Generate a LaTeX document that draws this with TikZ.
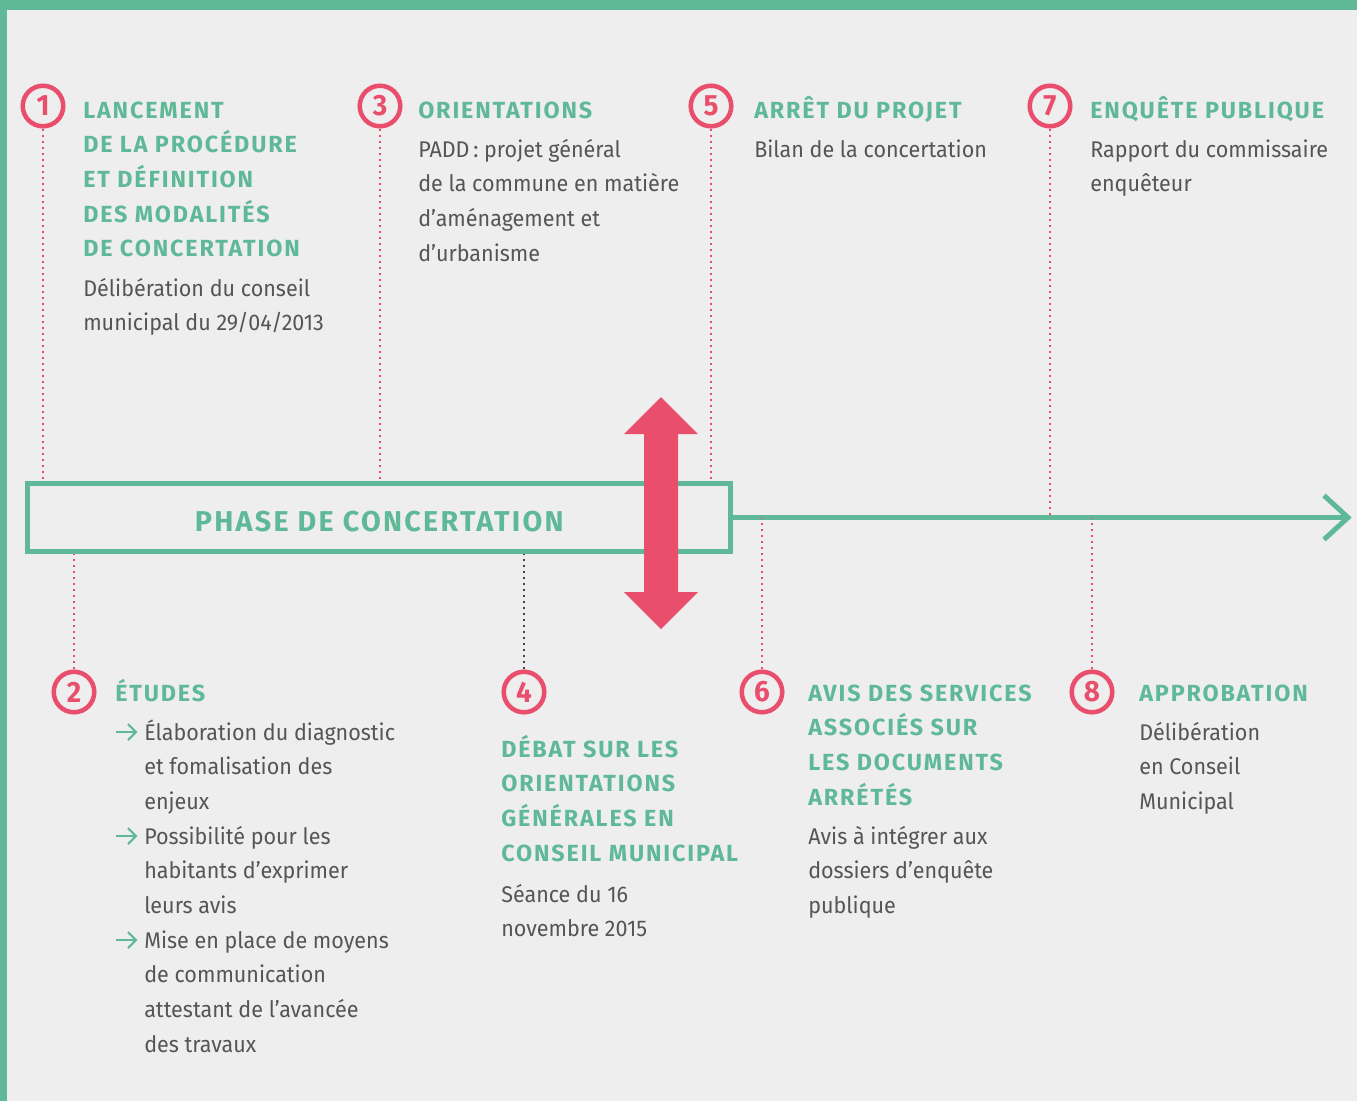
\documentclass[tikz,border=0pt]{standalone}
\usepackage{fontspec}
\setmainfont{Fira Sans}[FakeStretch=0.95]
\newfontfamily\hfont{Fira Sans}[LetterSpace=8,FakeStretch=1.0]
\definecolor{gr}{HTML}{5FB998}
\definecolor{pk}{HTML}{E94F6D}
\definecolor{bg}{HTML}{EEEEEE}
\definecolor{tx}{HTML}{555555}
\definecolor{dk}{HTML}{444444}
\newcommand\tl[1]{\begin{tabular}[t]{@{}l@{}}#1\end{tabular}}
\tikzset{
  circ/.style={circle,draw=pk,line width=3.4pt,minimum size=30.4pt,inner sep=0pt,text=pk,font=\bfseries\fontsize{22}{24}\selectfont},
  head/.style={anchor=base west,inner sep=0pt,text=gr,font=\hfont\bfseries\fontsize{17.5}{26}\selectfont},
  body/.style={anchor=base west,inner sep=0pt,text=tx,font=\fontsize{17}{26}\selectfont},
  pdot/.style={draw=pk,line width=1.5pt,dash pattern=on 1.5pt off 3pt},
  kdot/.style={draw=dk,line width=1.5pt,dash pattern=on 1.5pt off 3pt},
  gline/.style={draw=gr,line width=3.75pt},
  bul/.style={draw=gr,line width=1.6pt},
}
\begin{document}
\begin{tikzpicture}[x=0.75pt,y=-0.75pt]
\useasboundingbox (0,0) rectangle (1357,1101);
\fill[gr] (0,0) rectangle (1357,1101);
\fill[bg] (7,10) rectangle (1357,1101);
% box and timeline
\node[gline,rectangle,inner sep=0pt,minimum width=526.9pt,minimum height=50.6pt,text=gr,
  text height=21pt,text depth=0pt,
  font=\hfont\bfseries\fontsize{21.5}{26}\selectfont] (box) at (379.25,517.5) {PHASE DE CONCERTATION};
\coordinate (tip) at (1348,517.5);
\draw[gline] (box.east) -- (tip);
\draw[gline,miter limit=10] (tip) ++(-24,-22) -- (tip) -- ++(-24,22);
% pink double arrow
\fill[pk] (661,397) -- (698,434) -- (678,434) -- (678,592) -- (698,592) -- (661,629)
  -- (624,592) -- (644,592) -- (644,434) -- (624,434) -- cycle;
% circles
\node[circ] (c1) at (43,106) {1};
\node[circ] (c3) at (380,106) {3};
\node[circ] (c5) at (711,106) {5};
\node[circ] (c7) at (1050,106) {7};
\node[circ] (c2) at (74,692) {2};
\node[circ] (c4) at (524,692) {4};
\node[circ] (c6) at (762,692) {6};
\node[circ] (c8) at (1092,692) {8};
% dotted connectors
\draw[pdot] (c1.south) -- (c1.south |- box.north);
\draw[pdot] (c3.south) -- (c3.south |- box.north);
\draw[pdot] (c5.south) -- (c5.south |- box.north);
\draw[pdot] (c7.south) -- (c7.south |- tip);
\draw[pdot] (c2.north) -- (c2.north |- box.south);
\draw[kdot] (c4.north) -- (c4.north |- box.south);
\draw[pdot] (c6.north) -- (c6.north |- tip);
\draw[pdot] (c8.north) -- (c8.north |- tip);
% texts top
\node[head] (h1) at (83,118) {\tl{LANCEMENT\\DE LA PROCÉDURE\\ET DÉFINITION\\DES MODALITÉS\\DE CONCERTATION}};
\node[body] (b1) at (83,296) {\tl{Délibération du conseil\\municipal du 29/04/2013}};
\node[head] (h3) at (418,118) {ORIENTATIONS};
\node[body] (b3) at (418,157) {\tl{PADD\,: projet général\\de la commune en matière\\d’aménagement et\\d’urbanisme}};
\node[head] (h5) at (754,118) {ARRÊT DU PROJET};
\node[body] (b5) at (754,157) {Bilan de la concertation};
\node[head] (h7) at (1090,118) {ENQUÊTE PUBLIQUE};
\node[body] (b7) at (1090,157) {\tl{Rapport du commissaire\\enquêteur}};
% texts bottom
\node[head] (h2) at (115,701) {ÉTUDES};
\node[body] (b2) at (144,740) {\tl{Élaboration du diagnostic\\et fomalisation des\\enjeux\\Possibilité pour les\\habitants d’exprimer\\leurs avis\\Mise en place de moyens\\de communication\\attestant de l’avancée\\des travaux}};
\foreach \yy in {732,836,940}{
  \draw[bul] (116,\yy) -- (136,\yy);
  \draw[bul] (128,\yy-8) -- (136,\yy) -- (128,\yy+8);
}
\node[head] (h4) at (501,757) {\tl{DÉBAT SUR LES\\ORIENTATIONS\\GÉNÉRALES EN\\CONSEIL MUNICIPAL}};
\node[body] (b4) at (501,902) {\tl{Séance du 16\\novembre 2015}};
\node[head] (h6) at (808,701) {\tl{AVIS DES SERVICES\\ASSOCIÉS SUR\\LES DOCUMENTS\\ARRÉTÉS}};
\node[body] (b6) at (808,844) {\tl{Avis à intégrer aux\\dossiers d’enquête\\publique}};
\node[head] (h8) at (1139,701) {APPROBATION};
\node[body] (b8) at (1139,740) {\tl{Délibération\\en Conseil\\Municipal}};
\end{tikzpicture}
\end{document}
